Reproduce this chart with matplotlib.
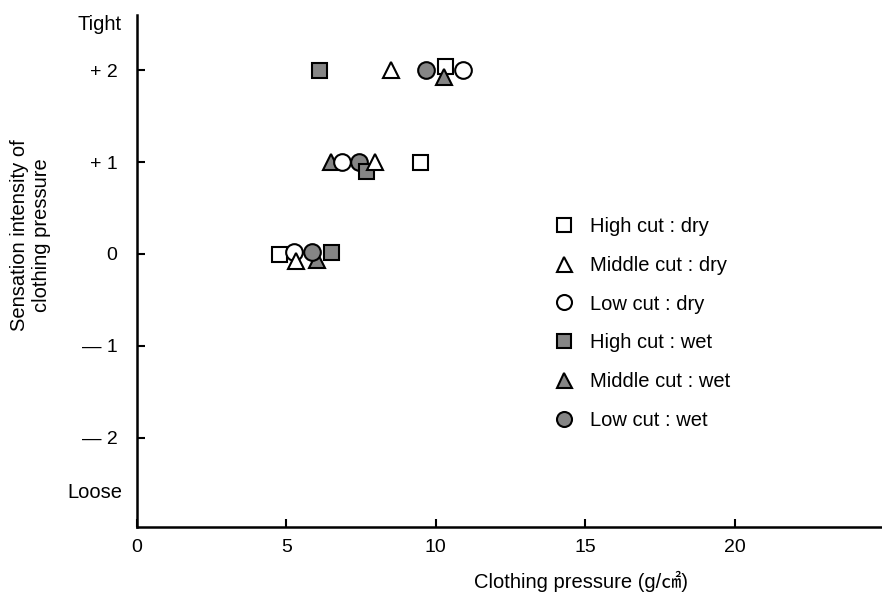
import matplotlib.pyplot as plt

plt.rcParams['font.family'] = ['Liberation Sans', 'Noto Sans CJK KR', 'DejaVu Sans']

# data points (clothing pressure g/cm2, sensation intensity)
high_dry_x = [4.76, 9.48, 10.31]
high_dry_y = [0.0, 1.0, 2.05]
mid_dry_x = [5.31, 7.98, 8.51]
mid_dry_y = [-0.08, 1.0, 2.0]
low_dry_x = [5.26, 6.87, 10.9]
low_dry_y = [0.02, 1.0, 2.0]
high_wet_x = [6.48, 7.67, 6.09]
high_wet_y = [0.02, 0.9, 2.0]
mid_wet_x = [6.03, 6.48, 10.26]
mid_wet_y = [-0.06, 1.0, 1.93]
low_wet_x = [5.87, 7.42, 9.68]
low_wet_y = [0.02, 1.0, 2.0]

x_ticks = [0, 5, 10, 15, 20]
y_ticks = [2, 1, 0, -1, -2]
y_tick_labels = ['+ 2', '+ 1', '0', '— 1', '— 2']

gray = '#858585'
fs = 14.5

fig = plt.figure(figsize=(8.82, 5.97), dpi=100)
ax = fig.add_axes([137 / 882, 1 - 527 / 597, 1 - 137 / 882, (527 - 15) / 597])

def series(x, y, marker, face, ms, label):
    h, = ax.plot(x, y, linestyle='none', marker=marker, markersize=ms,
                 markerfacecolor=face, markeredgecolor='black',
                 markeredgewidth=1.5, label=label, clip_on=False)
    return h

h1 = series(high_dry_x, high_dry_y, 's', 'white', 10.8, 'High cut : dry')
h5 = series(mid_wet_x, mid_wet_y, '^', gray, 12, 'Middle cut : wet')
h3 = series(low_dry_x, low_dry_y, 'o', 'white', 12, 'Low cut : dry')
h6 = series(low_wet_x, low_wet_y, 'o', gray, 12, 'Low cut : wet')
h4 = series(high_wet_x, high_wet_y, 's', gray, 10.8, 'High cut : wet')
h2 = series(mid_dry_x, mid_dry_y, '^', 'white', 12, 'Middle cut : dry')

leg = ax.legend(handles=[h1, h2, h3, h4, h5, h6], loc='upper left',
                bbox_to_anchor=(545 / 882, 1 - 207 / 597), bbox_transform=fig.transFigure,
                frameon=False, fontsize=fs, markerscale=0.9, handlelength=0.9,
                handletextpad=0.85, labelspacing=0.98, borderpad=0)

ax.set_xlim(0.1, 24.93)
ax.set_ylim(-2.97, 2.6)
ax.set_xticks(x_ticks)
ax.set_yticks(y_ticks)
ax.set_yticklabels(y_tick_labels)
ax.tick_params(direction='in', length=6, width=1.5, labelsize=14)
ax.tick_params(axis='y', pad=14)
ax.tick_params(axis='x', pad=9)

for s in ['top', 'right']:
    ax.spines[s].set_visible(False)
for s in ['left', 'bottom']:
    ax.spines[s].set_linewidth(1.8)

ax.text(-0.02, 2.5, 'Tight', transform=ax.get_yaxis_transform(),
        ha='right', va='center', fontsize=fs)
ax.text(-0.02, -2.6, 'Loose', transform=ax.get_yaxis_transform(),
        ha='right', va='center', fontsize=fs)

fig.text(31 / 882, 1 - 235 / 597, 'Sensation intensity of\nclothing pressure',
         rotation=90, ha='center', va='center', multialignment='center', fontsize=fs)
fig.text(581 / 882, 1 - 581 / 597, 'Clothing pressure (g/㎠)',
         ha='center', va='center', fontsize=fs)

fig.savefig('out.png', dpi=100)
